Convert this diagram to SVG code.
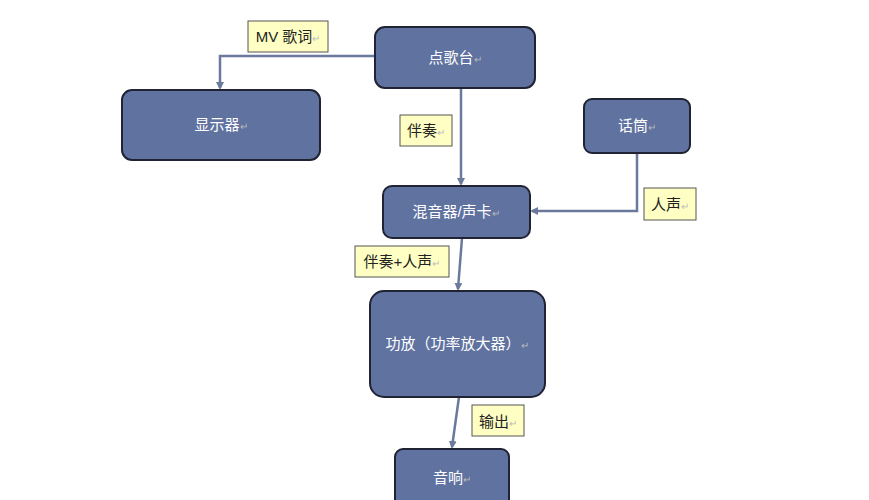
<svg xmlns="http://www.w3.org/2000/svg" width="869" height="500" viewBox="0 0 869 500">
<defs>
<style>
.n{fill:#5f72a0;stroke:#1f2333;stroke-width:2}
.nt{fill:#fff;font-family:"Liberation Sans","Noto Sans CJK SC",sans-serif;font-size:15px;text-anchor:middle}
.l{fill:#ffffc4;stroke:#555;stroke-width:1}
.lt{fill:#222;font-family:"Liberation Sans","Noto Sans CJK SC",sans-serif;font-size:15px;text-anchor:middle}
.r{fill:#bbb;font-size:10px}
.c{fill:none;stroke:#6b7a9c;stroke-width:2.5}
</style>
<marker id="a" markerWidth="8" markerHeight="8" refX="6" refY="4" orient="auto" markerUnits="userSpaceOnUse"><path d="M0,0L8,4L0,8z" fill="#6b7a9c"/></marker>
</defs>
<rect width="869" height="500" fill="#fff"/>
<g id="connectors">
<path class="c" d="M375,56H220V88" marker-end="url(#a)"/>
<path class="c" d="M461,88V184" marker-end="url(#a)"/>
<path class="c" d="M637,153V211H532" marker-end="url(#a)"/>
<path class="c" d="M462,238L458,289" marker-end="url(#a)"/>
<path class="c" d="M459,397L452,447" marker-end="url(#a)"/>
</g>
<g id="dgt"><rect class="n" x="375" y="27" width="160" height="61" rx="10"/><text class="nt" x="455" y="63">点歌台<tspan class="r">↵</tspan></text></g>
<g id="xsq"><rect class="n" x="122" y="90" width="198" height="70" rx="10"/><text class="nt" x="221" y="130">显示器<tspan class="r">↵</tspan></text></g>
<g id="ht"><rect class="n" x="584" y="99" width="106" height="54" rx="8"/><text class="nt" x="637" y="131">话筒<tspan class="r">↵</tspan></text></g>
<g id="hyq"><rect class="n" x="383" y="186" width="147" height="52" rx="9"/><text class="nt" x="456" y="217">混音器/声卡<tspan class="r">↵</tspan></text></g>
<g id="gf"><rect class="n" x="370" y="291" width="175" height="106" rx="14"/><text class="nt" x="457" y="349">功放（功率放大器）<tspan class="r">↵</tspan></text></g>
<g id="yx"><rect class="n" x="395" y="449" width="114" height="60" rx="8"/><text class="nt" x="452" y="483">音响<tspan class="r">↵</tspan></text></g>
<g id="l1"><rect class="l" x="248" y="21" width="80" height="31"/><text class="lt" x="288" y="42">MV 歌词<tspan class="r">↵</tspan></text></g>
<g id="l2"><rect class="l" x="400" y="115" width="52" height="31"/><text class="lt" x="426" y="136">伴奏<tspan class="r">↵</tspan></text></g>
<g id="l3"><rect class="l" x="644" y="188" width="52" height="32"/><text class="lt" x="670" y="210">人声<tspan class="r">↵</tspan></text></g>
<g id="l4"><rect class="l" x="355" y="246" width="94" height="31"/><text class="lt" x="402" y="267">伴奏+人声<tspan class="r">↵</tspan></text></g>
<g id="l5"><rect class="l" x="472" y="405" width="52" height="31"/><text class="lt" x="498" y="427">输出<tspan class="r">↵</tspan></text></g>
</svg>
